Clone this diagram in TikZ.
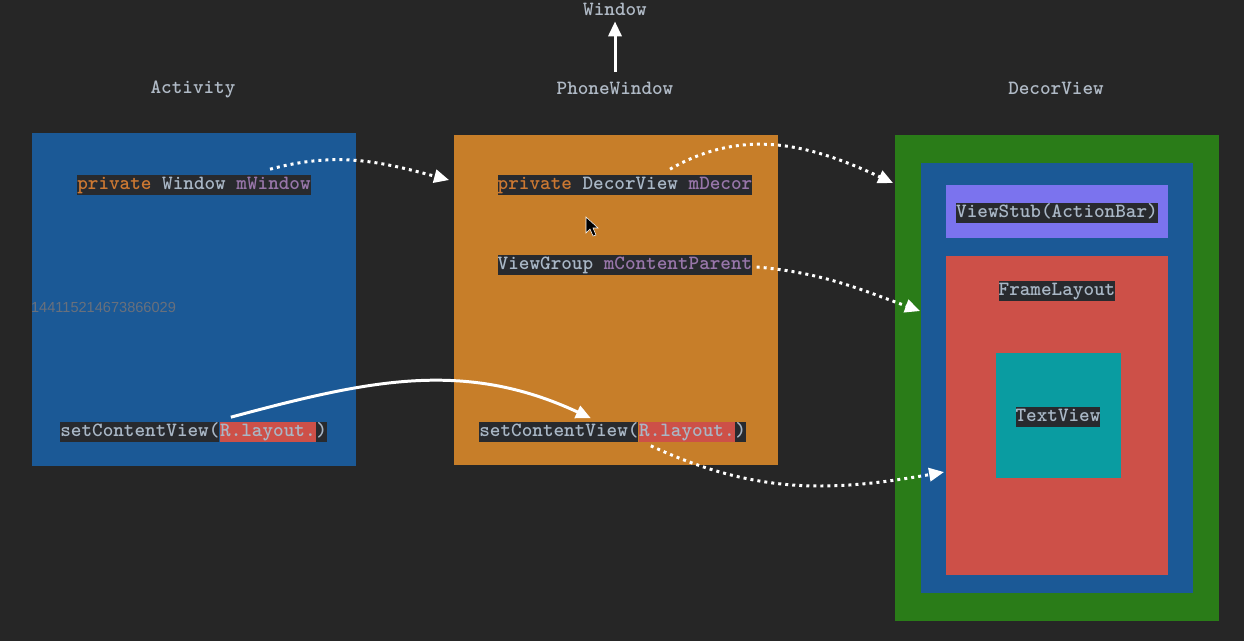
\documentclass[tikz,border=0pt]{standalone}
\usepackage{fontspec}
\newfontfamily\wmfont{Liberation Sans}
\usetikzlibrary{arrows.meta,positioning,calc}
\definecolor{bg}{RGB}{38,38,38}
\definecolor{actblue}{RGB}{27,89,150}
\definecolor{pworange}{RGB}{199,126,41}
\definecolor{dvgreen}{RGB}{42,124,24}
\definecolor{stubviolet}{RGB}{123,115,238}
\definecolor{flred}{RGB}{205,80,72}
\definecolor{tvteal}{RGB}{10,156,161}
\definecolor{codebg}{RGB}{40,42,46}
\definecolor{kwc}{RGB}{204,120,50}
\definecolor{tyc}{RGB}{169,183,198}
\definecolor{fdc}{RGB}{152,118,170}
\definecolor{lblc}{RGB}{176,186,198}
\definecolor{wmc}{RGB}{105,112,124}
\newcommand\cfont{\ttfamily\bfseries\fontsize{11.5}{13}\selectfont}
\tikzset{
  lbl/.style  = { font=\cfont, text=lblc },
  code/.style = { fill=codebg, inner sep=0pt, font=\cfont, text=tyc,
    text height=8.6pt, text depth=3.3pt },
  hl/.style   = { code, fill=flred },
  box/.style  = { inner sep=0pt, outer sep=0pt },
  dots/.style = { draw=white, line width=1.7pt, dash pattern=on 1.7pt off 2.3pt,
    -{Triangle[length=8.5pt,width=7.5pt]} },
  arr/.style  = { draw=white, line width=1.7pt, -{Triangle[length=8.5pt,width=7.5pt]} }
}

\begin{document}
\begin{tikzpicture}[x=0.02cm,y=0.02cm]
      \useasboundingbox (0,0) rectangle (1244,-641);
      \fill[bg] (0,0) rectangle (1244,-641);
      % titles
      \node[lbl] (lact) at (193,-89) {Activity};
      \node[lbl] (lpw) at (615,-88) {PhoneWindow};
      \node[lbl] (lwin) at (615,-9) {Window};
      \node[lbl] (ldv) at (1056,-88) {DecorView};
      \draw[arr, shorten <=2pt] (lpw) -- (lwin);
      % panes
      \node[box, fill=actblue, minimum width=6.48cm, minimum height=6.66cm] (act) at (194,-299.5) {};
      \node[box, fill=pworange, minimum width=6.48cm, minimum height=6.6cm] (pwin) at (616,-300) {};
      \node[box, fill=dvgreen, minimum width=6.48cm, minimum height=9.72cm] (decor) at (1057,-378) {};
      \node[box, fill=actblue, minimum width=5.44cm, minimum height=8.6cm] (dblue) at (decor) {};
      \node[box, fill=stubviolet, minimum width=4.44cm, minimum height=1.06cm] (stub) at (1057,-211.5) {};
      \node[box, fill=flred, minimum width=4.44cm, minimum height=6.38cm] (frame) at (1057,-415.5) {};
      \node[box, fill=tvteal, minimum width=2.5cm, minimum height=2.5cm] (tview) at (1058.5,-415.5) {};
      \node[font=\wmfont\fontsize{8.3}{10}\selectfont, text=wmc] (wm) at (103.5,-307) {144115214673866029};
      % code lines
      \node[code] (mwin) at (194,-185) {\textcolor{kwc}{private} Window \textcolor{fdc}{mWindow}};
      \node[code] (mdecor) at (625,-185) {\textcolor{kwc}{private} DecorView \textcolor{fdc}{mDecor}};
      \node[code] (mcp) at (625,-265) {ViewGroup \textcolor{fdc}{mContentParent}};
      \node[code, anchor=west] (scv1) at (60,-432) {setContentView(};
      \node[hl, right=0pt of scv1] (lay1) {R.layout.};
      \node[code, right=0pt of lay1] (cl1) {)};
      \node[code, anchor=west] (scv2) at (479,-432) {setContentView(};
      \node[hl, right=0pt of scv2] (lay2) {R.layout.};
      \node[code, right=0pt of lay2] (cl2) {)};
      \node[code] (stubtxt) at (1057,-213) {ViewStub(ActionBar)};
      \node[code] (frametxt) at (1057,-291) {FrameLayout};
      \node[code] (tvtxt) at (1058,-417) {TextView};
      % cursor
      \filldraw[fill=black, draw=white, line width=0.3pt] (586,-217) -- (586,-233) -- (590,-229)
        -- (593,-236) -- (596,-235) -- (593,-228) -- (598,-228) -- cycle;
      % links
      \draw[dots] ($(mwin.north east)+(-41,5)$) to[out=15,in=165] ($(pwin.north west)+(-5,-45)$);
      \draw[dots] ($(mdecor.north)+(45,5)$) to[out=30,in=155] ($(decor.north west)+(-2,-48)$);
      \draw[dots] ($(mcp.east)+(4,-2)$) to[out=-5,in=160] ($(dblue.north west)+(-1,-148)$);
      \draw[arr] ($(lay1.north west)+(11,4)$) to[out=15,in=155] ($(lay2.north west)+(-48,3)$);
      \draw[dots] ($(lay2.south west)+(12,-3)$) to[out=-25,in=190] ($(frame.north west)+(-2,-216)$);
\end{tikzpicture}
\end{document}
